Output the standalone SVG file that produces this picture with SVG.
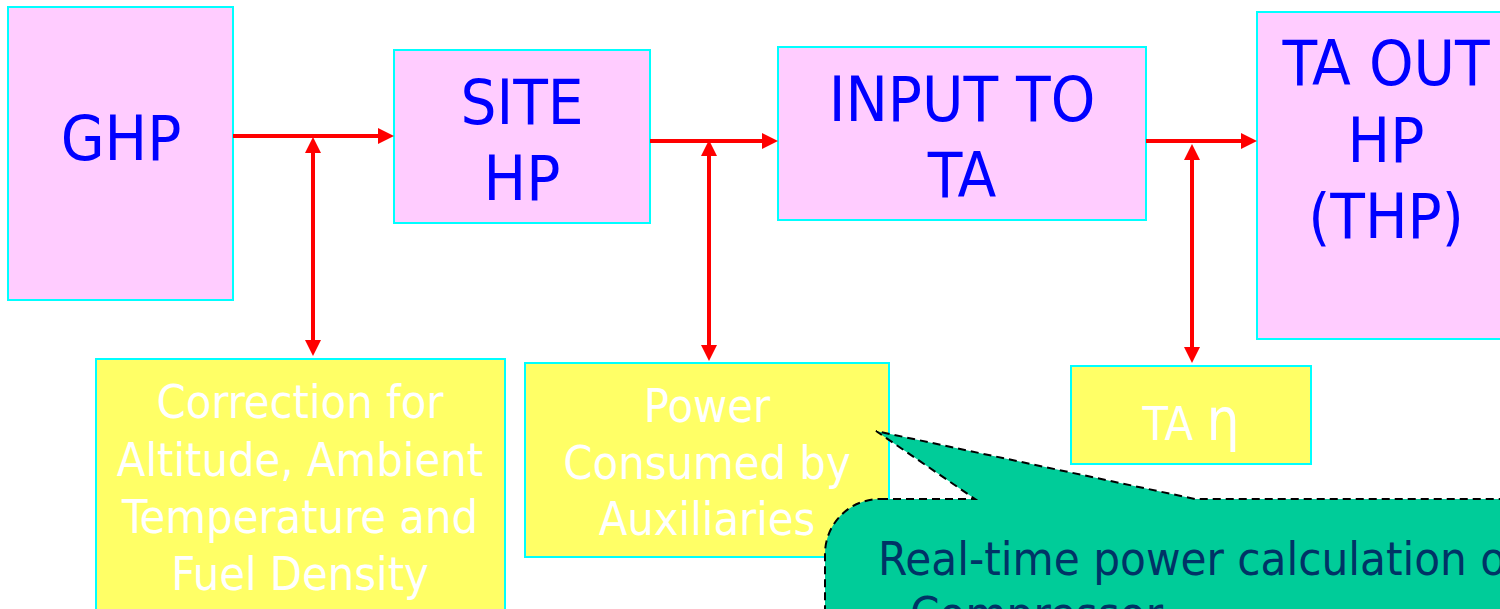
<svg xmlns="http://www.w3.org/2000/svg" width="1500" height="609" viewBox="0 0 1500 609">
  <defs>
    <style>
      text { font-family: "DejaVu Sans Condensed", "DejaVu Sans", sans-serif; font-stretch: condensed; text-anchor: middle; }
      .stage { fill: #FFCCFF; stroke: #00FFFF; stroke-width: 2; }
      .factor { fill: #FFFF66; stroke: #00FFFF; stroke-width: 2; }
      .stage-label { fill: #0000FF; font-size: 63px; }
      .factor-label { fill: #FFFFFF; font-size: 46.5px; }
      .flow { stroke: #FF0000; stroke-width: 4; fill: none; }
      .head { fill: #FF0000; }
      .note { fill: #00CC99; stroke: #000000; stroke-width: 2; stroke-dasharray: 8 5; }
      .note-label { fill: #003366; font-size: 47px; text-anchor: start; }
    </style>
  </defs>

  <!-- main power chain -->
  <g id="ghp">
    <rect class="stage" x="8" y="7" width="225" height="293"/>
    <text class="stage-label" x="121" y="160">GHP</text>
  </g>
  <g id="site-hp">
    <rect class="stage" x="394" y="50" width="256" height="173"/>
    <text class="stage-label" x="522" y="124">SITE</text>
    <text class="stage-label" x="522" y="200">HP</text>
  </g>
  <g id="input-ta">
    <rect class="stage" x="778" y="47" width="368" height="173"/>
    <text class="stage-label" x="962" y="121">INPUT TO</text>
    <text class="stage-label" x="962" y="197">TA</text>
  </g>
  <g id="ta-out-hp">
    <rect class="stage" x="1257" y="12" width="260" height="327"/>
    <text class="stage-label" x="1386" y="85">TA OUT</text>
    <text class="stage-label" x="1386" y="162">HP</text>
    <text class="stage-label" x="1386" y="238">(THP)</text>
  </g>

  <!-- correction factors -->
  <g id="correction">
    <rect class="factor" x="96" y="359" width="409" height="260"/>
    <text class="factor-label" x="300" y="418">Correction for</text>
    <text class="factor-label" x="300" y="476">Altitude, Ambient</text>
    <text class="factor-label" x="300" y="533">Temperature and</text>
    <text class="factor-label" x="300" y="590">Fuel Density</text>
  </g>
  <g id="auxiliaries">
    <rect class="factor" x="525" y="363" width="364" height="194"/>
    <text class="factor-label" x="707" y="422">Power</text>
    <text class="factor-label" x="707" y="479">Consumed by</text>
    <text class="factor-label" x="707" y="535">Auxiliaries</text>
  </g>
  <g id="ta-efficiency">
    <rect class="factor" x="1071" y="366" width="240" height="98"/>
    <text class="factor-label" x="1191" y="440">TA <tspan font-size="58px">η</tspan></text>
  </g>

  <!-- connectors: shafts with filled heads -->
  <g id="connectors">
    <line class="flow" x1="233" y1="136" x2="380" y2="136"/>
    <polygon class="head" points="378,128 394,136 378,144"/>
    <line class="flow" x1="313" y1="150" x2="313" y2="342"/>
    <polygon class="head" points="305,153 313,137 321,153"/>
    <polygon class="head" points="305,340 313,356 321,340"/>

    <line class="flow" x1="650" y1="141" x2="764" y2="141"/>
    <polygon class="head" points="762,133 778,141 762,149"/>
    <line class="flow" x1="709" y1="153" x2="709" y2="347"/>
    <polygon class="head" points="701,156 709,140 717,156"/>
    <polygon class="head" points="701,345 709,361 717,345"/>

    <line class="flow" x1="1146" y1="141" x2="1243" y2="141"/>
    <polygon class="head" points="1241,133 1257,141 1241,149"/>
    <line class="flow" x1="1192" y1="157" x2="1192" y2="349"/>
    <polygon class="head" points="1184,160 1192,144 1200,160"/>
    <polygon class="head" points="1184,347 1192,363 1200,347"/>
  </g>

  <!-- callout -->
  <g id="callout">
    <path class="note" d="M880 499 L975 499 L876 431 L1195 499 L1520 499 L1520 640 L825 640 L825 554 A55 55 0 0 1 880 499 Z"/>
    <text class="note-label" x="878" y="575">Real-time power calculation of</text>
    <text class="note-label" x="910" y="630">Compressor</text>
  </g>
</svg>
